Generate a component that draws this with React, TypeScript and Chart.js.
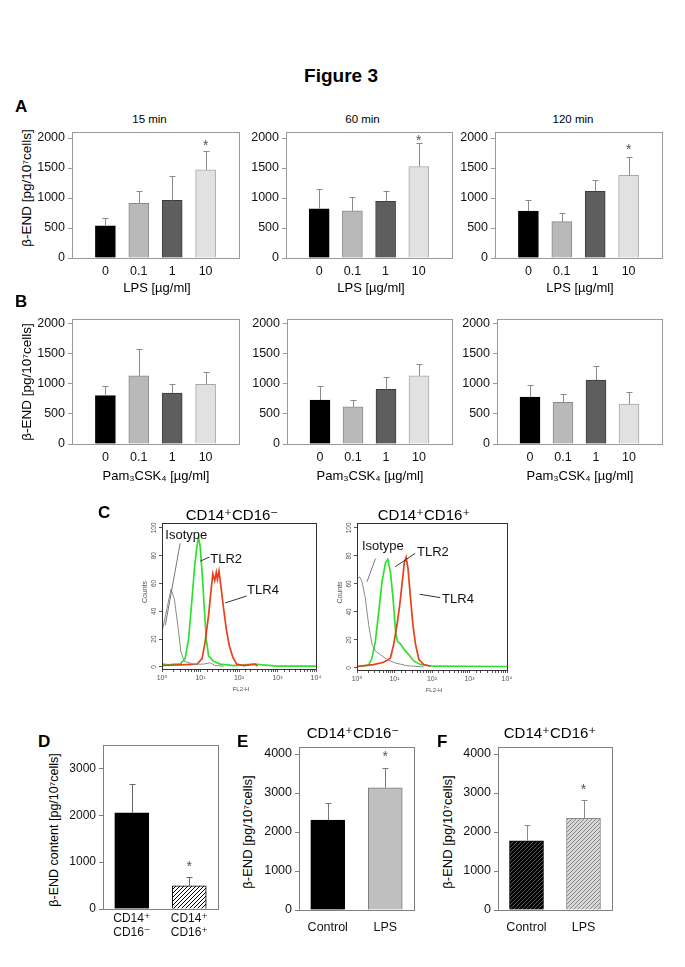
import React, { useEffect, useRef } from 'react';
import { Chart, registerables } from 'chart.js';

Chart.register(...registerables);

const FONT = '"Liberation Sans", Arial, "DejaVu Sans", sans-serif';
Chart.defaults.font.family = FONT;

// ---------- Panel A : LPS ----------
const doseLabels = ['0', '0.1', '1', '10'];
const lps15Means = [536, 912, 961, 1470];
const lps15Errors = [132, 199, 409, 309];
const lps60Means = [818, 785, 945, 1525];
const lps60Errors = [331, 232, 171, 387];
const lps120Means = [782, 606, 1113, 1377];
const lps120Errors = [182, 138, 187, 309];
const lpsStarIndex = 3;
const lps15Star = 1934;
const lps60Star = 2017;
const lps120Star = 1862;

// ---------- Panel B : Pam3CSK4 ----------
const pam15Means = [801, 1127, 845, 989];
const pam15Errors = [160, 448, 149, 199];
const pam60Means = [727, 617, 904, 1129];
const pam60Errors = [226, 110, 198, 193];
const pam120Means = [777, 689, 1058, 661];
const pam120Errors = [193, 137, 231, 199];

const abTicks = [0, 500, 1000, 1500, 2000];
const doseFills = ['#000000', '#b9b9b9', '#5e5e5e', '#e1e1e1'];
const doseBorders = ['#000000', '#8a8a8a', '#3c3c3c', '#a8a8a8'];

// ---------- Panel C : flow cytometry ----------
const c1IsoX = [1, 1.35, 1.71, 2.09, 2.57, 3.09, 3.8, 6.6, 12, 17.8, 24, 40];
const c1IsoY = [25, 42, 56, 49, 30, 11, 4, 2, 2, 3, 1, 0.5];
const c1Tlr2X = [1, 1.5, 2.2, 2.99, 3.98, 4.9, 6.03, 7.08, 8.13, 8.91, 9.77, 11, 12.6, 14.1, 16.2, 21.9, 32.4, 72, 240, 1000, 10000];
const c1Tlr2Y = [2, 1.5, 2, 2, 6, 20, 49, 73, 87, 93, 87, 68, 42, 20, 8, 4, 2, 1, 2, 0.6, 0.5];
const c1Tlr4X = [1, 3, 8.1, 11, 13.2, 16.2, 18.6, 20.9, 23.4, 25.7, 27.5, 30.2, 33.9, 39.8, 46.8, 56.2, 69.2, 87.1, 132, 263, 300];
const c1Tlr4Y = [1, 1.5, 2, 6, 18, 37, 54, 67, 62, 68, 63, 69, 58, 42, 27, 15, 7, 2, 1, 2, 0.5];

const c2IsoX = [1.05, 1.17, 1.35, 1.66, 2.04, 2.51, 3.09, 4.17, 6.31, 10.5, 21.4, 60.3];
const c2IsoY = [64, 65, 62, 50, 31, 17, 12, 9.5, 6, 3.5, 1.6, 0.7];
const c2Tlr2X = [1, 2.04, 2.51, 3.09, 3.8, 4.68, 5.75, 6.61, 7.76, 9.12, 10.7, 12, 14.5, 18.2, 24, 32.4, 49, 110, 10000];
const c2Tlr2Y = [1, 2, 7, 19, 40, 62, 75, 77.5, 69, 50, 26, 19, 17, 13, 9.5, 5, 2.4, 1.2, 1];
const c2Tlr4X = [1, 2.75, 5.13, 7.76, 9.55, 11.7, 13.8, 16.2, 18.2, 20.4, 22.9, 26.3, 30.9, 36.3, 44.7, 60.3, 91.2];
const c2Tlr4Y = [1, 2.4, 4, 7, 17, 31, 45, 62, 75, 79, 71, 52, 31, 17, 6, 2.4, 1.2];

const flowYTicks = [0, 20, 40, 60, 80, 100];
const flowXTicks = [1, 10, 100, 1000, 10000];
const flowXTickLabels = ['10⁰', '10¹', '10²', '10³', '10⁴'];

// annotations: [text, textX, textY, lineX1, lineY1, lineX2, lineY2, lineColor]
const c1Notes: [string, number, number, number, number, number, number, string][] = [
  ['Isotype', 1.22, 94.5, 2.97, 89, 1.22, 30, '#777777'],
  ['TLR2', 17.9, 77, 9.8, 76, 17, 79, '#333333'],
  ['TLR4', 162, 55, 43.7, 46, 158, 51, '#333333'],
];
const c2Notes: [string, number, number, number, number, number, number, string][] = [
  ['Isotype', 1.35, 86.7, 3.1, 78, 1.85, 61.6, '#777777'],
  ['TLR2', 39.8, 82.4, 10.5, 72.3, 35.6, 81.8, '#333333'],
  ['TLR4', 186, 49, 46.8, 52.6, 166, 50.2, '#333333'],
];

// ---------- Panel D ----------
const subsetLabels = [['CD14⁺', 'CD16⁻'], ['CD14⁺', 'CD16⁺']];
const contentMeans = [2050, 496];
const contentErrors = [620, 187];
const contentStar = 990;
const dTicks = [0, 1000, 2000, 3000];

// ---------- Panels E, F ----------
const treatLabels = ['Control', 'LPS'];
const negMeans = [2305, 3135];
const negErrors = [450, 515];
const negStar = 4020;
const posMeans = [1775, 2353];
const posErrors = [398, 464];
const posStar = 3185;
const efTicks = [0, 1000, 2000, 3000, 4000];

function makeFill(spec: string): any {
  if (!spec.startsWith('hatch')) return spec;
  const [, bg, fg, step] = spec.split('|');
  const s = Number(step);
  const c = document.createElement('canvas');
  c.width = s;
  c.height = s;
  const g = c.getContext('2d')!;
  g.fillStyle = bg;
  g.fillRect(0, 0, s, s);
  g.strokeStyle = fg;
  g.lineWidth = 1;
  g.beginPath();
  g.moveTo(-1, s + 1);
  g.lineTo(s + 1, -1);
  g.moveTo(-1, 1);
  g.lineTo(1, -1);
  g.moveTo(s - 1, s + 1);
  g.lineTo(s + 1, s - 1);
  g.stroke();
  return g.createPattern(c, 'repeat');
}

type BarProps = {
  box: [number, number, number, number];
  labels: (string | string[])[];
  means: number[];
  errors: number[];
  fills: string[];
  borders: string[];
  barWidth: number;
  padEnds: boolean;
  yMax: number;
  yTicks: number[];
  starIndex?: number;
  starValue?: number;
  xPad: number;
  tickSize: number;
  frame: string;
  errColor: string;
};

const PAD_L = 2, Y_W = 48, PAD_T = 20, PAD_R = 15, X_H = 43, PAD_B = 2;

function BarPanel(p: BarProps) {
  const ref = useRef<HTMLCanvasElement>(null);
  const L = p.box[0] - PAD_L - Y_W;
  const T = p.box[1] - PAD_T;
  const W = PAD_L + Y_W + p.box[2] + PAD_R;
  const H = PAD_T + p.box[3] + X_H + PAD_B;
  useEffect(() => {
    const canvas = ref.current!;
    const fills = p.fills.map(makeFill);
    const clear = 'rgba(0,0,0,0)';
    const xLabels = p.padEnds ? ['', ...p.labels, ''] : p.labels;
    const xData = p.padEnds ? [null, ...p.means, null] : p.means;
    const bg = p.padEnds ? [clear, ...fills, clear] : fills;
    const bd = p.padEnds ? [clear, ...p.borders, clear] : p.borders;
    const deco = {
      id: 'deco',
      afterDatasetsDraw(chart: any) {
        const { ctx, chartArea: a } = chart;
        const ys = chart.scales.y;
        const meta = chart.getDatasetMeta(0);
        ctx.save();
        ctx.lineWidth = 1;
        ctx.strokeStyle = p.frame;
        const l = Math.round(a.left), t = Math.round(a.top), r = Math.round(a.right), b = Math.round(a.bottom);
        ctx.strokeRect(l + 0.5, t + 0.5, r - l, b - t);
        ctx.strokeStyle = p.errColor;
        p.means.forEach((m, i) => {
          const el = meta.data[p.padEnds ? i + 1 : i];
          const x = Math.round(el.x) + 0.5;
          const y0 = ys.getPixelForValue(m);
          const y1 = Math.round(ys.getPixelForValue(m + p.errors[i])) + 0.5;
          ctx.beginPath();
          ctx.moveTo(x, y0);
          ctx.lineTo(x, y1);
          ctx.moveTo(x - 3, y1);
          ctx.lineTo(x + 3, y1);
          ctx.stroke();
        });
        if (p.starIndex !== undefined && p.starValue !== undefined) {
          const el = meta.data[p.padEnds ? p.starIndex + 1 : p.starIndex];
          ctx.fillStyle = '#555555';
          ctx.font = `14px ${FONT}`;
          ctx.textAlign = 'center';
          ctx.textBaseline = 'alphabetic';
          ctx.fillText('*', el.x, ys.getPixelForValue(p.starValue) + 8);
        }
        ctx.restore();
      },
    };
    const chart = new Chart(canvas, {
      type: 'bar',
      data: {
        labels: xLabels as any,
        datasets: [
          {
            data: xData as any,
            backgroundColor: bg,
            borderColor: bd,
            borderWidth: 1,
            barThickness: p.barWidth,
          },
        ],
      },
      options: {
        responsive: false,
        animation: false,
        devicePixelRatio: 1,
        layout: { padding: { left: PAD_L, top: PAD_T, right: PAD_R, bottom: PAD_B } },
        plugins: { legend: { display: false }, tooltip: { enabled: false } },
        scales: {
          x: {
            offset: !p.padEnds,
            grid: { display: false, drawTicks: false, tickLength: 0 },
            border: { display: false },
            ticks: {
              font: { family: FONT, size: p.tickSize },
              color: '#111111',
              padding: p.xPad,
              maxRotation: 0,
              autoSkip: false,
            },
            afterFit: (s: any) => {
              s.height = X_H;
            },
          },
          y: {
            min: 0,
            max: p.yMax,
            grid: { drawOnChartArea: false, drawTicks: true, tickLength: 4, color: p.frame },
            border: { display: false },
            ticks: {
              font: { family: FONT, size: p.tickSize },
              color: '#111111',
              padding: 3,
              callback: (v: any) => String(v),
            },
            afterBuildTicks: (s: any) => {
              s.ticks = p.yTicks.map((v) => ({ value: v }));
            },
            afterFit: (s: any) => {
              s.width = Y_W;
            },
          },
        },
      },
      plugins: [deco],
    } as any);
    return () => chart.destroy();
  }, []);
  return (
    <canvas
      ref={ref}
      width={W}
      height={H}
      style={{ position: 'absolute', left: L, top: T, width: W, height: H }}
    />
  );
}

type FlowProps = {
  box: [number, number, number, number];
  isoX: number[];
  isoY: number[];
  tlr2X: number[];
  tlr2Y: number[];
  tlr4X: number[];
  tlr4Y: number[];
  notes: [string, number, number, number, number, number, number, string][];
};

const F_PL = 2, F_YW = 28, F_PT = 10, F_PR = 12, F_XH = 30, F_PB = 2;

function FlowPanel(p: FlowProps) {
  const ref = useRef<HTMLCanvasElement>(null);
  const L = p.box[0] - F_PL - F_YW;
  const T = p.box[1] - F_PT;
  const W = F_PL + F_YW + p.box[2] + F_PR;
  const H = F_PT + p.box[3] + F_XH + F_PB;
  useEffect(() => {
    const canvas = ref.current!;
    const pts = (xs: number[], ys: number[]) => xs.map((x, i) => ({ x, y: ys[i] }));
    const deco = {
      id: 'flowdeco',
      afterDatasetsDraw(chart: any) {
        const { ctx, chartArea: a } = chart;
        const xs = chart.scales.x;
        const ys = chart.scales.y;
        ctx.save();
        ctx.lineWidth = 1;
        ctx.strokeStyle = '#333333';
        const l = Math.round(a.left), t = Math.round(a.top), r = Math.round(a.right), b = Math.round(a.bottom);
        ctx.strokeRect(l + 0.5, t + 0.5, r - l, b - t);
        ctx.fillStyle = '#555555';
        ctx.font = `6.5px ${FONT}`;
        ctx.textAlign = 'center';
        ctx.textBaseline = 'middle';
        flowYTicks.forEach((v) => {
          const y = ys.getPixelForValue(v);
          ctx.save();
          ctx.translate(a.left - 8, y);
          ctx.rotate(-Math.PI / 2);
          ctx.fillText(String(v), 0, 0);
          ctx.restore();
        });
        ctx.font = `7px ${FONT}`;
        ctx.save();
        ctx.translate(a.left - 17, (a.top + a.bottom) / 2 - 4);
        ctx.rotate(-Math.PI / 2);
        ctx.fillText('Counts', 0, 0);
        ctx.restore();
        ctx.font = `7px ${FONT}`;
        flowXTicks.forEach((v, k) => {
          ctx.fillText(flowXTickLabels[k], xs.getPixelForValue(v), a.bottom + 9);
        });
        ctx.font = `6px ${FONT}`;
        ctx.fillText('FL2-H', (a.left + a.right) / 2 + 2, a.bottom + 20);
        ctx.font = `13px ${FONT}`;
        ctx.textAlign = 'left';
        p.notes.forEach(([txt, tx, ty, x1, y1, x2, y2, col]) => {
          ctx.strokeStyle = col;
          ctx.beginPath();
          ctx.moveTo(xs.getPixelForValue(x1), ys.getPixelForValue(y1));
          ctx.lineTo(xs.getPixelForValue(x2), ys.getPixelForValue(y2));
          ctx.stroke();
          ctx.fillStyle = '#111111';
          ctx.fillText(txt, xs.getPixelForValue(tx), ys.getPixelForValue(ty));
        });
        ctx.restore();
      },
    };
    const chart = new Chart(canvas, {
      type: 'scatter',
      data: {
        datasets: [
          { data: pts(p.isoX, p.isoY), showLine: true, borderColor: '#8c8c8c', borderWidth: 1, pointRadius: 0 },
          { data: pts(p.tlr4X, p.tlr4Y), showLine: true, borderColor: '#e8401c', borderWidth: 1.7, pointRadius: 0 },
          { data: pts(p.tlr2X, p.tlr2Y), showLine: true, borderColor: '#2fe02f', borderWidth: 1.7, pointRadius: 0 },
        ],
      },
      options: {
        responsive: false,
        animation: false,
        devicePixelRatio: 1,
        layout: { padding: { left: F_PL, top: F_PT, right: F_PR, bottom: F_PB } },
        plugins: { legend: { display: false }, tooltip: { enabled: false } },
        scales: {
          x: {
            type: 'logarithmic',
            min: 1,
            max: 10000,
            grid: { drawOnChartArea: false, drawTicks: true, tickLength: 3, color: '#555555' },
            border: { display: false },
            ticks: { display: false },
            afterFit: (s: any) => {
              s.height = F_XH;
            },
          },
          y: {
            min: -1.5,
            max: 103.5,
            grid: { drawOnChartArea: false, drawTicks: true, tickLength: 3, color: '#555555' },
            border: { display: false },
            ticks: { display: false },
            afterBuildTicks: (s: any) => {
              s.ticks = flowYTicks.map((v) => ({ value: v }));
            },
            afterFit: (s: any) => {
              s.width = F_YW;
            },
          },
        },
      },
      plugins: [deco],
    } as any);
    return () => chart.destroy();
  }, []);
  return (
    <canvas
      ref={ref}
      width={W}
      height={H}
      style={{ position: 'absolute', left: L, top: T, width: W, height: H }}
    />
  );
}

type TxtProps = {
  x: number;
  y: number;
  size: number;
  bold?: boolean;
  rotate?: boolean;
  left?: boolean;
  children: React.ReactNode;
};

function Txt({ x, y, size, bold, rotate, left, children }: TxtProps) {
  const tf = left ? 'translate(0,-50%)' : rotate ? 'translate(-50%,-50%) rotate(-90deg)' : 'translate(-50%,-50%)';
  return (
    <div
      style={{
        position: 'absolute',
        left: x,
        top: y,
        transform: tf,
        whiteSpace: 'nowrap',
        fontFamily: FONT,
        fontSize: size,
        fontWeight: bold ? 'bold' : 'normal',
        lineHeight: 1,
        color: '#000',
      }}
    >
      {children}
    </div>
  );
}

const abCommon = {
  labels: doseLabels,
  fills: doseFills,
  borders: doseBorders,
  barWidth: 20,
  padEnds: true,
  yTicks: abTicks,
  tickSize: 12.5,
  frame: '#9a9a9a',
  errColor: '#8a8a8a',
};

export default function App() {
  const yTitle = 'β-END [pg/10⁷cells]';
  return (
    <div style={{ position: 'absolute', left: 0, top: 0, width: 685, height: 967, overflow: 'hidden', background: '#ffffff' }}>
      <Txt x={341} y={75} size={19} bold>Figure 3</Txt>

      {/* Row A */}
      <Txt x={15} y={106} size={17} bold left>A</Txt>
      <Txt x={149.5} y={120} size={11.5}>15 min</Txt>
      <Txt x={362.5} y={120} size={11.5}>60 min</Txt>
      <Txt x={573} y={120} size={11.5}>120 min</Txt>
      <Txt x={27} y={188} size={13.5} rotate>{yTitle}</Txt>
      <BarPanel {...abCommon} box={[72, 132, 167, 126]} means={lps15Means} errors={lps15Errors} yMax={2100} starIndex={lpsStarIndex} starValue={lps15Star} xPad={6.5} />
      <BarPanel {...abCommon} box={[286, 132, 166, 126]} means={lps60Means} errors={lps60Errors} yMax={2100} starIndex={lpsStarIndex} starValue={lps60Star} xPad={6.5} />
      <BarPanel {...abCommon} box={[495, 132, 167, 126]} means={lps120Means} errors={lps120Errors} yMax={2100} starIndex={lpsStarIndex} starValue={lps120Star} xPad={6.5} />
      <Txt x={157} y={287} size={13}>LPS [µg/ml]</Txt>
      <Txt x={371} y={287} size={13}>LPS [µg/ml]</Txt>
      <Txt x={580} y={287} size={13}>LPS [µg/ml]</Txt>

      {/* Row B */}
      <Txt x={15} y={301} size={17} bold left>B</Txt>
      <Txt x={27} y={382} size={13.5} rotate>{yTitle}</Txt>
      <BarPanel {...abCommon} box={[72, 319, 167, 125]} means={pam15Means} errors={pam15Errors} yMax={2070} xPad={6} />
      <BarPanel {...abCommon} box={[287, 319, 165, 125]} means={pam60Means} errors={pam60Errors} yMax={2070} xPad={6} />
      <BarPanel {...abCommon} box={[497, 319, 165, 125]} means={pam120Means} errors={pam120Errors} yMax={2070} xPad={6} />
      <Txt x={156} y={475} size={13}>Pam₃CSK₄ [µg/ml]</Txt>
      <Txt x={370} y={475} size={13}>Pam₃CSK₄ [µg/ml]</Txt>
      <Txt x={580} y={475} size={13}>Pam₃CSK₄ [µg/ml]</Txt>

      {/* Row C */}
      <Txt x={98} y={512} size={17} bold left>C</Txt>
      <Txt x={232} y={514} size={15}>CD14⁺CD16⁻</Txt>
      <Txt x={424} y={514} size={15}>CD14⁺CD16⁺</Txt>
      <FlowPanel box={[162, 523, 154, 146]} isoX={c1IsoX} isoY={c1IsoY} tlr2X={c1Tlr2X} tlr2Y={c1Tlr2Y} tlr4X={c1Tlr4X} tlr4Y={c1Tlr4Y} notes={c1Notes} />
      <FlowPanel box={[357, 523, 150, 147]} isoX={c2IsoX} isoY={c2IsoY} tlr2X={c2Tlr2X} tlr2Y={c2Tlr2Y} tlr4X={c2Tlr4X} tlr4Y={c2Tlr4Y} notes={c2Notes} />

      {/* Row D, E, F */}
      <Txt x={38} y={741} size={17} bold left>D</Txt>
      <Txt x={237} y={741} size={17} bold left>E</Txt>
      <Txt x={437} y={741} size={17} bold left>F</Txt>
      <Txt x={353} y={732} size={15}>CD14⁺CD16⁻</Txt>
      <Txt x={550} y={732} size={15}>CD14⁺CD16⁺</Txt>
      <Txt x={54} y={830} size={12.5} rotate>β-END content [pg/10⁷cells]</Txt>
      <Txt x={247} y={832} size={13} rotate>{yTitle}</Txt>
      <Txt x={447} y={832} size={13} rotate>{yTitle}</Txt>
      <BarPanel
        box={[103, 745, 115, 164]}
        labels={subsetLabels}
        means={contentMeans}
        errors={contentErrors}
        fills={['#000000', 'hatch|#ffffff|#000000|4']}
        borders={['#000000', '#000000']}
        barWidth={34}
        padEnds={false}
        yMax={3500}
        yTicks={dTicks}
        starIndex={1}
        starValue={contentStar}
        xPad={2}
        tickSize={12}
        frame="#808080"
        errColor="#666666"
      />
      <BarPanel
        box={[299, 747, 115, 163]}
        labels={treatLabels}
        means={negMeans}
        errors={negErrors}
        fills={['#000000', '#c0c0c0']}
        borders={['#000000', '#7a7a7a']}
        barWidth={34}
        padEnds={false}
        yMax={4180}
        yTicks={efTicks}
        starIndex={1}
        starValue={negStar}
        xPad={10}
        tickSize={12.5}
        frame="#808080"
        errColor="#777777"
      />
      <BarPanel
        box={[498, 747, 114, 163]}
        labels={treatLabels}
        means={posMeans}
        errors={posErrors}
        fills={['hatch|#000000|#5a5a5a|4', 'hatch|#d6d6d6|#8a8a8a|4']}
        borders={['#000000', '#8a8a8a']}
        barWidth={34}
        padEnds={false}
        yMax={4180}
        yTicks={efTicks}
        starIndex={1}
        starValue={posStar}
        xPad={10}
        tickSize={12.5}
        frame="#808080"
        errColor="#8a8a8a"
      />
    </div>
  );
}
